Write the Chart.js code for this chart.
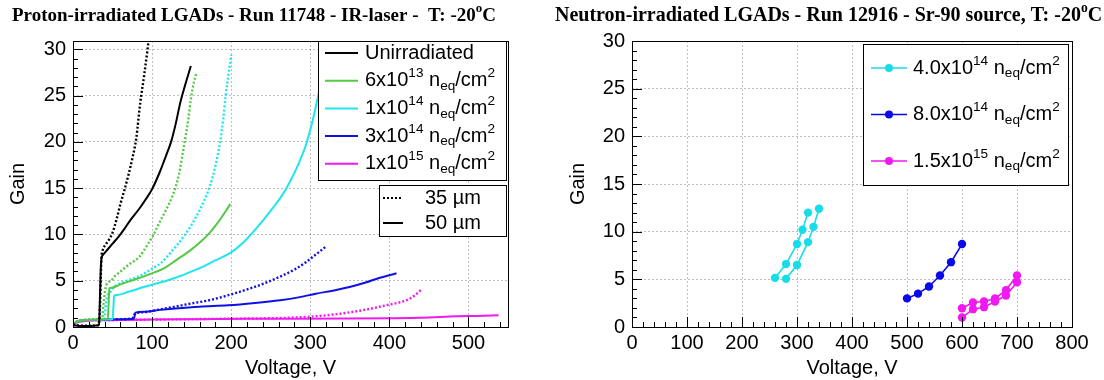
<!DOCTYPE html>
<html>
<head>
<meta charset="utf-8">
<script src="https://cdn.jsdelivr.net/npm/chart.js@4.4.1/dist/chart.umd.min.js"></script>
<style>
  html, body { margin: 0; padding: 0; background: #fff; }
  #wrap { position: relative; width: 1104px; height: 380px; }
  canvas { position: absolute; top: 0; }
  #cLeft { left: 0; }
  #cRight { left: 552px; }
</style>
</head>
<body>
<div id="wrap">
  <canvas id="cLeft" width="552" height="380"></canvas>
  <canvas id="cRight" width="552" height="380"></canvas>
</div>
<script>
// ── Left panel: gain vs voltage, [V, gain] pairs ──
const unirr35 = [[0,0.3],[5,0.2],[15,0.15],[25,0.15],[32,0.2],[34,2],[35,5],[36,7.5],[38,8.4],[42,9],[46,9.5],[50,10.2],[55,11.6],[60,13.3],[65,14.8],[70,16.4],[75,18.2],[80,20.4],[85,24.2],[90,27.2],[95,30.5],[96,31.2]];
const unirr50 = [[0,0.2],[10,0.1],[20,0.1],[30,0.15],[33,0.3],[34,3],[35,6],[36,7.4],[38,7.8],[44,8.4],[50,9],[58,9.8],[65,10.6],[73,11.6],[84,12.8],[92,13.8],[100,14.9],[110,16.8],[118,18.6],[124,20],[130,22],[135,24],[138,25],[143,26.5],[149,28.2]];
const p6e13_35 = [[0,0.3],[5,0.6],[15,0.75],[30,0.8],[37,0.9],[38,2],[40,3.5],[42,4.5],[48,5],[53,5.5],[60,6],[70,6.7],[84,7.6],[95,9],[102,10],[110,11.4],[118,12.7],[125,14],[130,15.2],[134,16.5],[138,18.4],[142,20.4],[146,22.6],[149,24.6],[153,26.5],[156,27.4]];
const p6e13_50 = [[0,0.3],[5,0.6],[15,0.75],[30,0.8],[44,0.85],[45,2.5],[46,4.2],[49,4.25],[60,4.6],[70,4.9],[84,5.3],[100,5.8],[116,6.4],[130,7.2],[147,8.2],[160,9.1],[173,10.2],[185,11.5],[193,12.5],[199,13.3]];
const p1e14_35 = [[0,0.3],[5,0.6],[15,0.75],[30,0.8],[40,0.9],[41,2],[43,3.2],[47,3.8],[53,4.4],[65,4.9],[84,5.5],[100,6.3],[111,6.9],[125,8.2],[142,10],[155,11.8],[165,13.5],[173,15.2],[180,17.4],[186,20],[190,22.5],[193,25],[197,27.5],[200,29.4]];
const p1e14_50 = [[0,0.3],[5,0.6],[15,0.75],[30,0.8],[50,0.85],[51,2],[52,3.4],[55,3.45],[70,3.8],[93,4.4],[110,4.8],[129,5.3],[147,5.9],[164,6.5],[180,7.2],[199,8],[215,9.1],[227,10.2],[240,11.5],[253,12.9],[265,14.3],[275,15.8],[285,17.6],[295,19.8],[303,22.3],[310,25],[316,27.5],[320,29]];
const p3e14_35 = [[0,0.3],[5,0.6],[15,0.75],[40,0.8],[60,0.85],[75,0.95],[78,1.4],[90,1.6],[110,1.9],[129,2.2],[150,2.55],[173,2.9],[195,3.4],[218,4.0],[240,4.65],[262,5.45],[280,6.2],[293,6.9],[305,7.7],[320,8.7]];
const p3e14_50 = [[0,0.3],[5,0.6],[15,0.75],[40,0.8],[60,0.85],[77,0.9],[79,1.55],[90,1.65],[110,1.85],[129,2.0],[160,2.2],[196,2.35],[230,2.6],[262,2.9],[285,3.2],[307,3.6],[330,3.95],[351,4.35],[370,4.8],[387,5.3],[400,5.6],[409,5.8]];
const p1e15_35 = [[0,0.2],[5,0.55],[15,0.7],[40,0.75],[100,0.8],[150,0.85],[200,0.9],[250,0.95],[298,1.1],[330,1.35],[351,1.6],[375,1.95],[396,2.35],[410,2.6],[422,2.9],[432,3.4],[440,4.0]];
const p1e15_50 = [[0,0.2],[5,0.5],[15,0.65],[40,0.73],[100,0.8],[160,0.85],[218,0.9],[280,0.9],[351,0.92],[400,0.95],[440,1.0],[485,1.15],[510,1.2],[538,1.27]];

const protonLabels = ['Unirradiated', '6x10^{13} n_{eq}/cm^{2}', '1x10^{14} n_{eq}/cm^{2}', '3x10^{14} n_{eq}/cm^{2}', '1x10^{15} n_{eq}/cm^{2}'];
const protonColors = ['#000000', '#55c845', '#1ee6ee', '#1010e6', '#f01af0'];
const thickLabels = ['35 \u00b5m', '50 \u00b5m'];

// ── Right panel: Sr-90 points ──
const n4e14_a = [[260,5.15],[280,6.6],[300,8.7],[310,10.2],[320,12.0]];
const n4e14_b = [[280,5.05],[300,6.5],[320,8.9],[330,10.5],[340,12.4]];
const n8e14   = [[500,3.0],[520,3.5],[540,4.25],[560,5.4],[580,6.8],[600,8.7]];
const n15e15_a = [[600,1.97],[620,2.57],[640,2.68],[660,3.0],[680,3.87],[700,5.4]];
const n15e15_b = [[600,0.99],[620,1.87],[640,2.08],[660,2.68],[680,3.3],[700,4.7]];

const neutronLabels = ['4.0x10^{14} n_{eq}/cm^{2}', '8.0x10^{14} n_{eq}/cm^{2}', '1.5x10^{15} n_{eq}/cm^{2}'];
const neutronColors = ['#18dde8', '#0a0ae8', '#f01af0'];

const titleLeft  = 'Proton-irradiated LGADs - Run 11748 - IR-laser -  T: -20^{o}C';
const titleRight = 'Neutron-irradiated LGADs - Run 12916 - Sr-90 source, T: -20^{o}C';

const SANS  = '"Liberation Sans", Arial, sans-serif';
const SERIF = '"Liberation Serif", "Times New Roman", serif';
Chart.defaults.font.family = SANS;
Chart.defaults.color = '#000';

const DOT = [2, 2];
const pts = arr => arr.map(([x, y]) => ({ x, y }));

// text with ^{..} and _{..}
function richText(ctx, str, x, y, size, weight, family) {
  const parts = str.split(/(\^\{[^}]*\}|_\{[^}]*\})/).filter(s => s.length);
  ctx.textBaseline = 'middle';
  ctx.textAlign = 'left';
  let cx = x;
  parts.forEach(p => {
    let fs = size, dy = 0, t = p;
    if (p.startsWith('^{')) { t = p.slice(2, -1); fs = size * 0.68; dy = -size * 0.36; }
    else if (p.startsWith('_{')) { t = p.slice(2, -1); fs = size * 0.68; dy = size * 0.28; }
    ctx.font = (weight || '') + ' ' + fs + 'px ' + (family || SANS);
    ctx.fillText(t, cx, y + dy);
    cx += ctx.measureText(t).width;
  });
  return cx - x;
}

function legendBox(ctx, box, entries, o) {
  ctx.save();
  ctx.fillStyle = '#fff';
  ctx.fillRect(box.x, box.y, box.w, box.h);
  ctx.strokeStyle = '#000';
  ctx.lineWidth = 1;
  ctx.setLineDash([]);
  ctx.strokeRect(box.x + 0.5, box.y + 0.5, box.w, box.h);
  entries.forEach((e, i) => {
    const yy = box.y + o.first + i * o.step;
    ctx.strokeStyle = e.color;
    ctx.lineWidth = e.width || 2;
    ctx.setLineDash(e.dash || []);
    ctx.beginPath();
    ctx.moveTo(box.x + o.lineX0, yy);
    ctx.lineTo(box.x + o.lineX1, yy);
    ctx.stroke();
    ctx.setLineDash([]);
    if (e.marker) {
      ctx.fillStyle = e.color;
      ctx.beginPath();
      ctx.arc(box.x + (o.lineX0 + o.lineX1) / 2, yy, 4, 0, Math.PI * 2);
      ctx.fill();
    }
    ctx.fillStyle = '#000';
    richText(ctx, e.label, box.x + o.textX, yy, o.size);
  });
  ctx.restore();
}

// ROOT-like frame: box, inward ticks, legends, title
const rootFrame = {
  id: 'rootFrame',
  afterDatasetsDraw(chart, args, o) {
    const { ctx } = chart;
    (o.legends || []).forEach(l => legendBox(ctx, l.box, l.entries, l.opts));
  },
  afterDraw(chart, args, o) {
    const { ctx, chartArea: a, scales: { x, y } } = chart;
    ctx.save();
    ctx.strokeStyle = '#000';
    ctx.lineWidth = 1;
    ctx.setLineDash([]);
    ctx.beginPath();
    const nx = Math.floor(x.max / o.xMinor + 1e-6);
    for (let i = 0; i <= nx; i++) {
      const px = Math.round(x.getPixelForValue(i * o.xMinor)) + 0.5;
      const len = (i * o.xMinor) % o.xMajor === 0 ? 10 : 5;
      ctx.moveTo(px, a.bottom);
      ctx.lineTo(px, a.bottom - len);
    }
    const ny = Math.floor(y.max / o.yMinor + 1e-6);
    for (let i = 0; i <= ny; i++) {
      const py = Math.round(y.getPixelForValue(i * o.yMinor)) + 0.5;
      const len = (i * o.yMinor) % o.yMajor === 0 ? 10 : 5;
      ctx.moveTo(a.left, py);
      ctx.lineTo(a.left + len, py);
    }
    ctx.stroke();
    ctx.strokeRect(Math.round(a.left) + 0.5, Math.round(a.top) + 0.5, Math.round(a.right - a.left), Math.round(a.bottom - a.top));
    ctx.fillStyle = '#000';
    richText(ctx, o.title, o.titleX, o.titleY, o.titleSize, 'bold', SERIF);
    ctx.restore();
  }
};

function axes(xmax, ymax, yWidth, titlePad) {
  const grid = { color: 'rgba(0,0,0,0.25)', lineWidth: 1, drawTicks: false };
  const border = { display: false, dash: [2, 2] };
  return {
    x: {
      type: 'linear', min: 0, max: xmax,
      afterFit: s => { s.height = 53; },
      grid, border,
      ticks: { stepSize: 100, includeBounds: false, autoSkip: false, maxRotation: 0, padding: 4, color: '#000', font: { size: 20 } },
      title: { display: true, text: 'Voltage, V', color: '#000', font: { size: 20 }, padding: { top: 0, bottom: 0 } }
    },
    y: {
      type: 'linear', min: 0, max: ymax,
      afterFit: s => { s.width = yWidth; },
      grid, border,
      ticks: { stepSize: 5, includeBounds: false, autoSkip: false, padding: 7, color: '#000', font: { size: 20 } },
      title: { display: true, text: 'Gain', color: '#000', font: { size: 20 }, padding: { top: titlePad, bottom: 0 } }
    }
  };
}

// ── left chart ──
const protonSets = [
  [unirr35, 0, true], [unirr50, 0, false],
  [p6e13_35, 1, true], [p6e13_50, 1, false],
  [p1e14_35, 2, true], [p1e14_50, 2, false],
  [p3e14_35, 3, true], [p3e14_50, 3, false],
  [p1e15_35, 4, true], [p1e15_50, 4, false]
].map(([d, c, dotted]) => ({
  label: protonLabels[c] + (dotted ? ' 35um' : ' 50um'),
  data: pts(d),
  showLine: true,
  cubicInterpolationMode: 'monotone',
  borderColor: protonColors[c],
  borderWidth: dotted ? 2.4 : 2,
  borderDash: dotted ? DOT : [],
  pointRadius: 0,
  clip: 0
}));

new Chart(document.getElementById('cLeft'), {
  type: 'scatter',
  data: { datasets: protonSets },
  options: {
    responsive: false, animation: false, devicePixelRatio: 1,
    layout: { padding: { left: 0, right: 44, top: 41, bottom: 0 } },
    scales: axes(550, 30.9, 73, 6),
    plugins: {
      legend: { display: false }, tooltip: { enabled: false },
      rootFrame: {
        xMinor: 20, xMajor: 100, yMinor: 1, yMajor: 5,
        title: titleLeft, titleX: 12, titleY: 16, titleSize: 19,
        legends: [
          {
            box: { x: 318, y: 41, w: 188, h: 139 },
            entries: protonLabels.map((l, i) => ({ label: l, color: protonColors[i] })),
            opts: { first: 12, step: 27.7, lineX0: 7, lineX1: 40, textX: 47, size: 20 }
          },
          {
            box: { x: 379, y: 185, w: 127, h: 51 },
            entries: [{ label: thickLabels[0], color: '#000', dash: DOT }, { label: thickLabels[1], color: '#000' }],
            opts: { first: 13, step: 25, lineX0: 4, lineX1: 24, textX: 46, size: 20 }
          }
        ]
      }
    }
  },
  plugins: [rootFrame]
});

// ── right chart ──
const neutronSets = [
  [n4e14_a, 0], [n4e14_b, 0], [n8e14, 1], [n15e15_a, 2], [n15e15_b, 2]
].map(([d, c]) => ({
  label: neutronLabels[c],
  data: pts(d),
  showLine: true,
  borderColor: neutronColors[c],
  borderWidth: 1.6,
  pointRadius: 4.2,
  pointBorderWidth: 0,
  pointBackgroundColor: neutronColors[c],
  clip: 0
}));

new Chart(document.getElementById('cRight'), {
  type: 'scatter',
  data: { datasets: neutronSets },
  options: {
    responsive: false, animation: false, devicePixelRatio: 1,
    layout: { padding: { left: 0, right: 32, top: 41, bottom: 0 } },
    scales: axes(800, 30, 80, 14),
    plugins: {
      legend: { display: false }, tooltip: { enabled: false },
      rootFrame: {
        xMinor: 20, xMajor: 100, yMinor: 1, yMajor: 5,
        title: titleRight, titleX: 3, titleY: 16, titleSize: 20,
        legends: [
          {
            box: { x: 311, y: 44, w: 205, h: 141 },
            entries: neutronLabels.map((l, i) => ({ label: l, color: neutronColors[i], width: 1.6, marker: true })),
            opts: { first: 24, step: 46.5, lineX0: 8, lineX1: 44, textX: 50, size: 20 }
          }
        ]
      }
    }
  },
  plugins: [rootFrame]
});
</script>
</body>
</html>
